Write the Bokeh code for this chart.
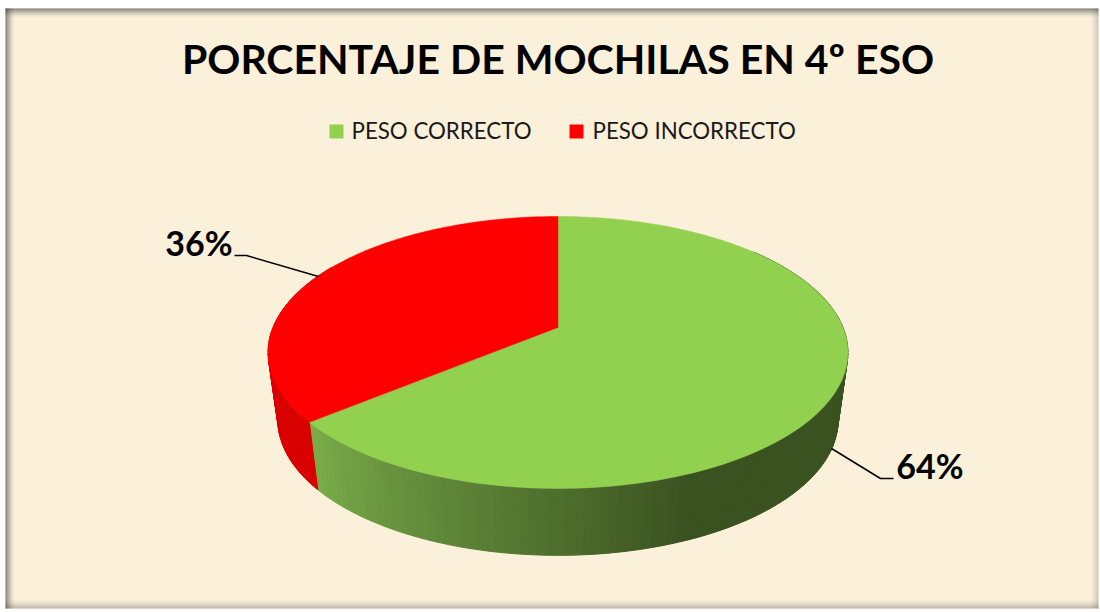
import numpy as np
from bokeh.plotting import figure
from bokeh.models import Range1d
from bokeh.core.properties import value
from bokeh.embed import file_html
from bokeh.resources import INLINE

TITLE = "PORCENTAJE DE MOCHILAS EN 4º ESO"
categories = ["PESO CORRECTO", "PESO INCORRECTO"]
shares = [64, 36]
top_colors = ["#92d050", "#ff0000"]
red_side = "#d90000"
side_light = (0x7a, 0xad, 0x4a)
side_dark = (0x3a, 0x51, 0x20)
FONT = value("Lato")
BG = "#fbf0da"

W, H = 1100, 612
L, R, T, B = 5, 1098, 8, 608   # panel edges
p = figure(width=W, height=H, output_backend="svg", toolbar_location=None,
           x_range=Range1d(0, W), y_range=Range1d(H, 0),
           min_border=0, outline_line_color=None, background_fill_color="#ffffff",
           border_fill_color="#ffffff")
p.axis.visible = False
p.grid.visible = False

p.quad(left=L, right=R, top=T, bottom=B, fill_color=BG, line_alpha=0)

# soft inner shadow round the panel
for i in range(9):
    a = 0.62 * (1 - i / 9) ** 1.7
    p.quad(left=L, right=R, top=T + i, bottom=T + i + 1, fill_color="#303030", fill_alpha=a, line_alpha=0)
    p.quad(left=L + i, right=L + i + 1, top=T, bottom=B, fill_color="#303030", fill_alpha=a, line_alpha=0)
    p.quad(left=R - 1 - i, right=R - i, top=T, bottom=B, fill_color="#303030", fill_alpha=a * 0.35, line_alpha=0)
    p.quad(left=L, right=R, top=B - 1 - i, bottom=B - i, fill_color="#303030", fill_alpha=a * 0.5, line_alpha=0)

# perspective pie: theta is clockwise from 12 o'clock
K = 0.1836
CX = 557.5
APEX_Y = 327


def top_xy(th):
    w = 1 + K * np.cos(th)
    return CX + 285 * np.sin(th) / w, APEX_Y - 131.4 * np.cos(th) / w


def bot_xy(th):
    w = 1 + K * np.cos(th)
    return CX + 275.3 * np.sin(th) / w, 395 - 130.5 * np.cos(th) / w


def strip(a, b, col):
    ths = np.array([a, b])
    tx, ty = top_xy(ths)
    bx, by = bot_xy(ths)
    p.patch(list(tx) + list(bx[::-1]), list(ty) + list(by[::-1]),
            fill_color=col, line_color=col, line_width=1)


split = 2 * np.pi * shares[0] / sum(shares)

# side wall, drawn first so that the top faces cover its far part
edges = np.append(np.radians(np.arange(50, np.degrees(split), 1.5)), split)
dark_at = np.radians(157)
for a, b in zip(edges[:-1], edges[1:]):
    t = np.clip((split - (a + b) / 2) / (split - dark_at), 0, 1)
    rgb = [int(round(l + (d - l) * t)) for l, d in zip(side_light, side_dark)]
    strip(a, b, "#%02x%02x%02x" % tuple(rgb))

edges = np.linspace(split, np.radians(300), 40)
for a, b in zip(edges[:-1], edges[1:]):
    strip(a, b, red_side)

# top faces
start = 0.0
for share, col in zip(shares, top_colors):
    end = start + 2 * np.pi * share / sum(shares)
    ths = np.linspace(start, end, 200)
    x, y = top_xy(ths)
    p.patch([CX] + list(x), [APEX_Y] + list(y), fill_color=col, line_color=col, line_width=0.5)
    start = end

# title
p.text([557.5], [58], text=[TITLE], text_font=FONT, text_font_style="bold",
       text_font_size="41px", text_align="center", text_baseline="middle", text_color="#000000")

# legend
for xs, xt, cat, col in zip([329, 569], [351, 592], categories, top_colors):
    p.quad(left=xs, right=xs + 14, top=124, bottom=138, fill_color=col, line_alpha=0)
    p.text([xt], [130], text=[cat], text_font=FONT, text_font_size="22.3px",
           text_align="left", text_baseline="middle", text_color="#1a1a1a")

# data labels with leaders
p.line([318, 246, 234], [276, 255, 255], line_color="#000000", line_width=1.5)
p.line([831, 880, 893], [448, 478, 478], line_color="#000000", line_width=1.5)
for x, y, v in zip([963, 232], [465, 242], shares):
    p.text([x], [y], text=[f"{v}%"], text_font=FONT, text_font_style="bold", text_font_size="34px",
           text_align="right", text_baseline="middle", text_color="#000000")

open("out.html", "w").write(file_html(p, INLINE))
